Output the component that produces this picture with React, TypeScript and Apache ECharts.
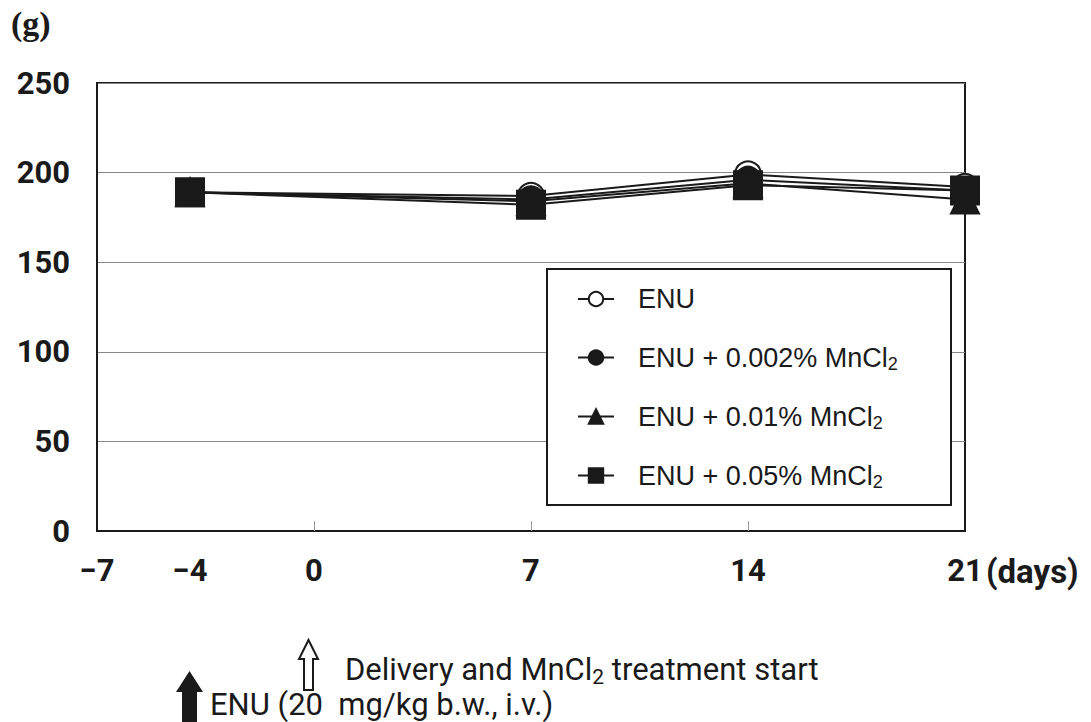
import React, { useEffect, useRef } from "react";
import * as echarts from "echarts";

const days = [-4, 7, 14, 21];
const seriesNames = [
  "ENU",
  "ENU + 0.002% MnCl2",
  "ENU + 0.01% MnCl2",
  "ENU + 0.05% MnCl2",
];
const enu = [189, 187, 199, 192];
const mn002 = [189, 185, 196, 190];
const mn001 = [189, 184, 194, 185];
const mn005 = [189, 182, 193, 190];
const xLabelValues = [-7, -4, 0, 7, 14, 21];
const xTickValues = [0, 7, 14];

const legendLabels: Record<string, string> = {
  "ENU": "ENU",
  "ENU + 0.002% MnCl2": "ENU + 0.002% MnCl{sub|2}",
  "ENU + 0.01% MnCl2": "ENU + 0.01% MnCl{sub|2}",
  "ENU + 0.05% MnCl2": "ENU + 0.05% MnCl{sub|2}",
};

export default function App() {
  const ref = useRef<HTMLDivElement>(null);
  useEffect(() => {
    if (!ref.current) return;
    const chart = echarts.init(ref.current, null, { renderer: "svg" });
    const pair = (vals: number[]) => days.map((d, i) => [d, vals[i]]);
    const axisFont = { fontFamily: "Roboto", fontWeight: "bold" as const, fontSize: 31, color: "#1a1a1a" };
    const mk = (name: string, vals: number[], symbol: string, size: number) => ({
      name,
      type: "line",
      data: pair(vals),
      symbol,
      symbolSize: size,
      showSymbol: true,
      lineStyle: { color: "#1a1a1a", width: 2 },
      itemStyle: { color: "#1a1a1a", borderColor: "#1a1a1a", borderWidth: 2 },
    });
    chart.setOption({
      animation: false,
      backgroundColor: "#fff",
      grid: {
        left: 97, top: 83, right: 126, bottom: 191,
        show: true, borderColor: "#1a1a1a", borderWidth: 2, backgroundColor: "transparent",
      },
      xAxis: {
        type: "value",
        min: -7,
        max: 21,
        axisLine: { show: true, onZero: false, lineStyle: { color: "#1a1a1a", width: 2 } },
        axisTick: { show: true, inside: true, length: 10, customValues: xTickValues, lineStyle: { color: "#999", width: 1 } },
        axisLabel: {
          customValues: xLabelValues,
          margin: 24,
          ...axisFont,
          formatter: (v: number) => (v < 0 ? "\u2212" + Math.abs(v) : String(v)),
        },
        splitLine: { show: false },
      },
      yAxis: {
        type: "value",
        min: 0,
        max: 250,
        interval: 50,
        axisLine: { show: true, onZero: false, lineStyle: { color: "#1a1a1a", width: 2 } },
        axisTick: { show: false },
        axisLabel: { margin: 27, ...axisFont },
        splitLine: { show: true, lineStyle: { color: "#888", width: 1 } },
      },
      legend: {
        orient: "vertical",
        left: 577,
        top: 284,
        padding: 0,
        itemWidth: 36,
        itemHeight: 18,
        itemGap: 28,
        z: 10,
        data: seriesNames,
        formatter: (n: string) => legendLabels[n] || n,
        textStyle: {
          fontFamily: "Liberation Sans",
          fontSize: 27,
          color: "#1a1a1a",
          lineHeight: 30,
          padding: [0, 0, 0, 19],
          rich: {
            sub: { fontFamily: "Liberation Sans", fontSize: 18, lineHeight: 18, padding: [13, 0, 0, 0], color: "#1a1a1a" },
          },
        },
      },
      graphic: [
        {
          type: "rect",
          z: 5,
          shape: { x: 547, y: 269, width: 404, height: 236 },
          style: { fill: "#fff", stroke: "#1a1a1a", lineWidth: 2 },
        },
        {
          type: "text",
          left: 11,
          top: 6,
          style: { text: "(g)", font: "bold 34px 'Liberation Serif'", fill: "#1a1a1a" },
        },
        {
          type: "text",
          left: 986,
          top: 555,
          style: { text: "(days)", font: "bold 33px Roboto", fill: "#1a1a1a" },
        },
        {
          type: "polygon",
          shape: { points: [[308.5, 640], [318, 659], [313, 659], [313, 690], [304, 690], [304, 659], [299, 659]] },
          style: { fill: "#fff", stroke: "#1a1a1a", lineWidth: 2 },
        },
        {
          type: "text",
          left: 345,
          top: 652,
          style: {
            text: "Delivery and MnCl{sub|2} treatment start",
            font: "31px Roboto",
            fill: "#1a1a1a",
            lineHeight: 34,
            rich: { sub: { font: "21px Roboto", lineHeight: 21, padding: [14, 0, 0, 0], fill: "#1a1a1a" } },
          },
        },
        {
          type: "polygon",
          shape: { points: [[189.5, 671], [203, 692], [197, 692], [197, 722], [182, 722], [182, 692], [176, 692]] },
          style: { fill: "#1a1a1a" },
        },
        {
          type: "text",
          left: 210,
          top: 689,
          style: { text: "ENU (20  mg/kg b.w., i.v.)", font: "31px Roboto", fill: "#1a1a1a" },
        },
      ],
      series: [
        mk(seriesNames[0], enu, "emptyCircle", 26),
        mk(seriesNames[1], mn002, "circle", 26),
        mk(seriesNames[2], mn001, "triangle", 28),
        mk(seriesNames[3], mn005, "rect", 28),
      ],
    });
    return () => chart.dispose();
  }, []);
  return <div ref={ref} style={{ position: "absolute", left: 0, top: 0, width: 1091, height: 722 }} />;
}
